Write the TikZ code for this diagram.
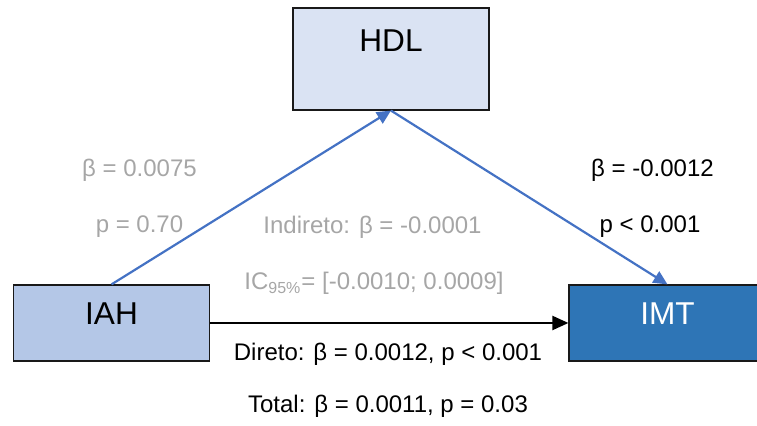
\documentclass[tikz,border=0pt]{standalone}
\usepackage{fontspec}
\setmainfont{Liberation Sans}
\usetikzlibrary{arrows.meta}

\definecolor{hdlfill}{HTML}{DAE3F3}
\definecolor{iahfill}{HTML}{B4C7E7}
\definecolor{imtfill}{HTML}{2E75B6}
\definecolor{medblue}{HTML}{4472C4}
\definecolor{lightgray}{HTML}{A6A6A6}

\begin{document}
\begin{tikzpicture}[x=0.5pt, y=-0.5pt, >={Triangle[length=7pt, width=6.5pt]},
  font=\fontsize{12}{14}\selectfont,
  box/.style={draw=black!90, line width=0.6pt, inner xsep=0pt, inner ysep=0pt,
    minimum width=98pt, font=\fontsize{15.8}{18}\selectfont},
  varbox/.style={box, text height=20pt, text depth=18pt},
  medarrow/.style={->, line width=1.1pt, draw=medblue},
  lbl/.style={anchor=base}]
  \useasboundingbox (0,0) rectangle (757,426);
  \clip (0,0) rectangle (757,426);

  % variables
  \node[box, fill=hdlfill, text height=21.7pt, text depth=29.3pt] (hdl) at (391,59) {HDL};
  \node[varbox, fill=iahfill] (iah) at (111.5,323) {IAH};
  \node[varbox, fill=imtfill, text=white, minimum width=98.5pt] (imt) at (667.5,323) {IMT};

  % paths
  \draw[medarrow] (iah.north) -- (hdl.south);
  \draw[medarrow] (hdl.south) -- (imt.north);
  \draw[->, line width=1.1pt, >={Triangle[length=8pt, width=7pt]}] (iah.east) -- (imt.west);

  % coefficients
  \node[lbl, text=lightgray] (betaA) at (139.5,177) {β = 0.0075};
  \node[lbl, text=lightgray] (pA) at (139.5,233) {p = 0.70};
  \node[lbl] (betaB) at (652.5,177) {β = -0.0012};
  \node[lbl] (pB) at (650,233) {p < 0.001};
  \node[lbl, text=lightgray] (ind) at (372.5,234) {Indireto: β = -0.0001};
  \node[lbl, text=lightgray] (ic) at (374,290) {IC\textsubscript{95\%}= [-0.0010; 0.0009]};
  \node[lbl] (direct) at (388,361) {Direto: β = 0.0012, p < 0.001};
  \node[lbl] (total) at (388,413) {Total: β = 0.0011, p = 0.03};
\end{tikzpicture}
\end{document}
